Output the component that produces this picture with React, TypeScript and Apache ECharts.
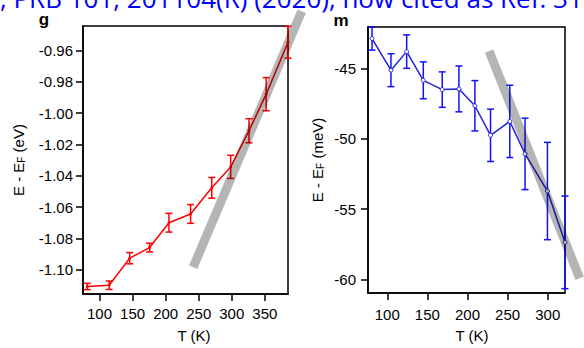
import React, { useEffect, useRef } from 'react';
import * as echarts from 'echarts';

// Panel g (eV)
const gTemps = [81.5, 114.6, 145.6, 175.7, 205, 237.7, 269.7, 298.3, 326, 352, 385];
const gEnergy = [-1.1108, -1.11, -1.0927, -1.0859, -1.07, -1.0644, -1.0477, -1.0343, -1.0112, -0.9878, -0.9546];
const gError = [0.002, 0.0027, 0.0036, 0.0028, 0.006, 0.006, 0.0066, 0.0074, 0.0077, 0.0106, 0.0102];
const gGuideT = [241.6, 405.7];
const gGuideE = [-1.0985, -0.9347];
const gXTicks = [100, 150, 200, 250, 300, 350];
const gYTicks = [-1.1, -1.08, -1.06, -1.04, -1.02, -1.0, -0.98, -0.96];

// Panel m (meV)
const mTemps = [81, 104.6, 124.2, 144.9, 168.5, 189.3, 209.2, 228.7, 252.7, 271.7, 299.6, 321.5];
const mEnergy = [-42.87, -45.12, -43.8, -45.84, -46.5, -46.45, -47.65, -49.75, -48.76, -51.07, -53.71, -57.36];
const mError = [0.82, 1.17, 1.19, 1.31, 1.26, 1.63, 1.79, 1.86, 2.57, 2.54, 3.46, 3.29];
const mGuideT = [226.9, 339.8];
const mGuideE = [-43.76, -59.91];
const mXTicks = [100, 150, 200, 250, 300];
const mYTicks = [-60, -55, -50, -45];

const headerText = ', PRB 101, 201104(R) (2020), now cited as Ref. 31';
const FONT = '"Liberation Sans", Arial, sans-serif';

function errorBars(color: string) {
  return (params: any, api: any) => {
    const x = api.value(0);
    const lo = api.value(1);
    const hi = api.value(2);
    const top = api.coord([x, hi]);
    const bot = api.coord([x, lo]);
    const hw = 3.5;
    const style = { stroke: color, lineWidth: 1.5 };
    return {
      type: 'group',
      children: [
        { type: 'line', shape: { x1: top[0], y1: top[1], x2: bot[0], y2: bot[1] }, style },
        { type: 'line', shape: { x1: top[0] - hw, y1: top[1], x2: top[0] + hw, y2: top[1] }, style },
        { type: 'line', shape: { x1: bot[0] - hw, y1: bot[1], x2: bot[0] + hw, y2: bot[1] }, style },
      ],
    };
  };
}

function guideBand(params: any, api: any) {
  const a = api.coord([api.value(0), api.value(1)]);
  const b = api.coord([api.value(2), api.value(3)]);
  return {
    type: 'line',
    shape: { x1: a[0], y1: a[1], x2: b[0], y2: b[1] },
    style: { stroke: 'rgba(0,0,0,0.29)', lineWidth: 9, lineCap: 'butt' },
  };
}

const axisLineStyle = { color: '#000', width: 1.5 };

function xAxis(gridIndex: number, min: number, max: number, ticks: number[], margin: number, nameGap: number, padLeft: number) {
  return {
    type: 'value',
    gridIndex,
    min,
    max,
    name: 'T (K)',
    nameLocation: 'middle',
    nameGap,
    nameTextStyle: { fontFamily: FONT, fontSize: 15, color: '#000', padding: [0, 0, 0, padLeft] },
    axisLine: { show: true, onZero: false, lineStyle: axisLineStyle },
    axisTick: { show: true, inside: false, length: 7, lineStyle: axisLineStyle, customValues: ticks },
    axisLabel: { fontFamily: FONT, fontSize: 15, color: '#000', margin, customValues: ticks, formatter: (v: number) => String(Math.round(v)) },
    splitLine: { show: false },
  };
}

function yAxis(gridIndex: number, min: number, max: number, ticks: number[], digits: number, unit: string, nameGap: number, margin: number) {
  return {
    type: 'value',
    gridIndex,
    min,
    max,
    name: 'E - E{sub|F} (' + unit + ')',
    nameLocation: 'middle',
    nameGap,
    nameRotate: 90,
    nameTextStyle: {
      fontFamily: FONT,
      fontSize: 15,
      color: '#000',
      rich: {
        sub: { fontFamily: FONT, fontSize: 10, color: '#000', verticalAlign: 'bottom', padding: [6, 0, 0, 0] },
      },
    },
    axisLine: { show: true, onZero: false, lineStyle: axisLineStyle },
    axisTick: { show: true, inside: false, length: 7, lineStyle: axisLineStyle, customValues: ticks },
    axisLabel: { fontFamily: FONT, fontSize: 15, color: '#000', margin, customValues: ticks, formatter: (v: number) => v.toFixed(digits) },
    splitLine: { show: false },
  };
}

export default function App() {
  const ref = useRef<HTMLDivElement>(null);
  useEffect(() => {
    if (!ref.current) return;
    const chart = echarts.init(ref.current, null, { renderer: 'svg' });
    const gErr = gTemps.map((t, i) => [t, gEnergy[i] - gError[i], gEnergy[i] + gError[i]]);
    const mErr = mTemps.map((t, i) => [t, mEnergy[i] - mError[i], mEnergy[i] + mError[i]]);
    const option: any = {
      animation: false,
      backgroundColor: '#fff',
      grid: [
        { left: 83, top: 26, width: 205, height: 271, show: true, borderColor: '#000', borderWidth: 1.5, backgroundColor: 'transparent' },
        { left: 368, top: 27, width: 197, height: 270, show: true, borderColor: '#000', borderWidth: 1.5, backgroundColor: 'transparent' },
      ],
      xAxis: [
        xAxis(0, 75, 385, gXTicks, 12, 34, 17),
        xAxis(1, 76, 321.5, mXTicks, 14, 35, 11),
      ],
      yAxis: [
        yAxis(0, -1.1156, -0.9442, gYTicks, 2, 'eV', 57, 10),
        yAxis(1, -60.96, -42.05, mYTicks, 0, 'meV', 43, 12),
      ],
      graphic: [
        {
          type: 'text',
          x: 0,
          y: -2,
          style: { text: headerText, fontFamily: '"Open Sans", sans-serif', fontSize: 26, fill: '#0000ff', align: 'left', verticalAlign: 'middle' },
          z: 0,
        },
        {
          type: 'text',
          x: 44,
          y: 19,
          style: { text: 'g', fontFamily: FONT, fontSize: 17, fontWeight: 'bold', fill: '#000', align: 'center', verticalAlign: 'middle' },
        },
        {
          type: 'text',
          x: 341,
          y: 20,
          style: { text: 'm', fontFamily: FONT, fontSize: 17, fontWeight: 'bold', fill: '#000', align: 'center', verticalAlign: 'middle' },
        },
      ],
      series: [
        {
          type: 'custom',
          xAxisIndex: 0,
          yAxisIndex: 0,
          renderItem: errorBars('#ff0000'),
          data: gErr,
          encode: { x: 0, y: [1, 2] },
          z: 2,
        },
        {
          type: 'line',
          xAxisIndex: 0,
          yAxisIndex: 0,
          data: gTemps.map((t, i) => [t, gEnergy[i]]),
          lineStyle: { color: '#ff0000', width: 1.5 },
          itemStyle: { color: '#ff0000' },
          symbol: 'circle',
          symbolSize: 3,
          z: 3,
        },
        {
          type: 'custom',
          xAxisIndex: 0,
          yAxisIndex: 0,
          renderItem: guideBand,
          data: [[gGuideT[0], gGuideE[0], gGuideT[1], gGuideE[1]]],
          encode: { x: [0, 2], y: [1, 3] },
          clip: false,
          z: 4,
        },
        {
          type: 'custom',
          xAxisIndex: 1,
          yAxisIndex: 1,
          renderItem: errorBars('#1010ff'),
          data: mErr,
          encode: { x: 0, y: [1, 2] },
          z: 2,
        },
        {
          type: 'line',
          xAxisIndex: 1,
          yAxisIndex: 1,
          data: mTemps.map((t, i) => [t, mEnergy[i]]),
          lineStyle: { color: '#2222dd', width: 1.5 },
          itemStyle: { color: '#ffffff', borderColor: '#2222dd', borderWidth: 1 },
          symbol: 'circle',
          symbolSize: 4,
          z: 3,
        },
        {
          type: 'custom',
          xAxisIndex: 1,
          yAxisIndex: 1,
          renderItem: guideBand,
          data: [[mGuideT[0], mGuideE[0], mGuideT[1], mGuideE[1]]],
          encode: { x: [0, 2], y: [1, 3] },
          clip: false,
          z: 4,
        },
      ],
    };
    chart.setOption(option);
    return () => chart.dispose();
  }, []);
  return <div ref={ref} style={{ position: 'absolute', left: 0, top: 0, width: 584, height: 348 }} />;
}
